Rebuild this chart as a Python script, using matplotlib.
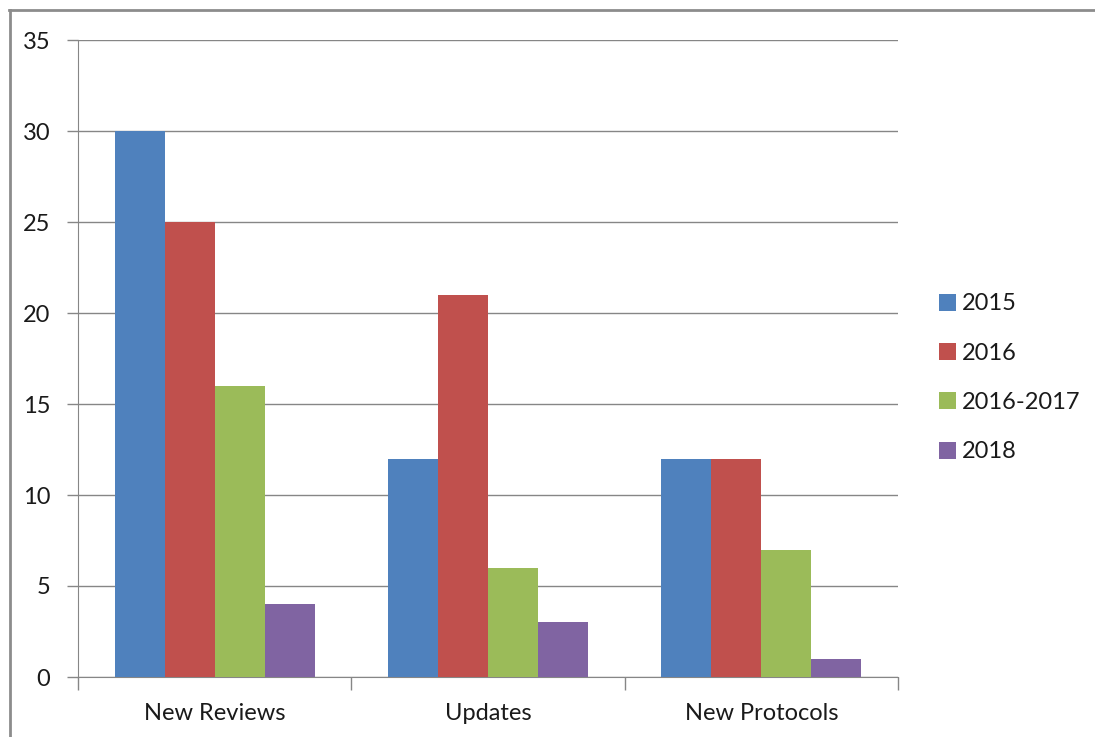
import matplotlib.pyplot as plt
from matplotlib.lines import Line2D
import numpy as np

categories = ['New Reviews', 'Updates', 'New Protocols']
series = ['2015', '2016', '2016-2017', '2018']
values_2015 = [30, 12, 12]
values_2016 = [25, 21, 12]
values_2016_2017 = [16, 6, 7]
values_2018 = [4, 3, 1]
colors = ['#4F81BD', '#C0504D', '#9BBB59', '#8064A2']

plt.rcParams['font.family'] = ['Lato', 'DejaVu Sans']

fig = plt.figure(figsize=(10.95, 7.37), dpi=100)
ax = fig.add_axes([78 / 1095, 60 / 737, 820 / 1095, 637 / 737])

x = np.arange(len(categories))
w = 0.183
all_vals = [values_2015, values_2016, values_2016_2017, values_2018]
for i, (vals, name) in enumerate(zip(all_vals, series)):
    ax.bar(x + (i - 1.5) * w, vals, width=w, color=colors[i], label=name, zorder=3)

ax.set_xlim(-0.5, 2.5)
ax.set_ylim(0, 35)
ax.set_yticks(range(0, 36, 5))
ax.yaxis.grid(True, color='#868686', linewidth=1, zorder=0)

ax.set_xticks(x)
ax.set_xticklabels(categories)
ax.set_xticks([-0.5, 0.5, 1.5, 2.5], minor=True)
ax.tick_params(axis='x', which='major', length=0, pad=19, labelsize=17, colors='#1a1a1a')
ax.tick_params(axis='x', which='minor', length=9, width=1, color='#868686', direction='out')
ax.tick_params(axis='y', length=8, width=1, color='#868686', pad=12, labelsize=17, colors='#1a1a1a')

for s in ['top', 'right']:
    ax.spines[s].set_visible(False)
ax.spines['left'].set_color('#868686')
ax.spines['bottom'].set_color('#868686')

leg = fig.legend(loc='center left', bbox_to_anchor=(918 / 1095, (737 - 378) / 737),
                 frameon=False, fontsize=17, handlelength=0.72, handleheight=0.72,
                 handletextpad=0.25, labelspacing=1.2)
for t in leg.get_texts():
    t.set_color('#1a1a1a')

# chart frame
fig.add_artist(Line2D([9.5 / 1095, 9.5 / 1095], [0, 727 / 737], transform=fig.transFigure,
                      color='#8c8c8c', linewidth=2))
fig.add_artist(Line2D([9 / 1095, 1], [727 / 737, 727 / 737], transform=fig.transFigure,
                      color='#8c8c8c', linewidth=2))

fig.savefig('out.png', dpi=100)
